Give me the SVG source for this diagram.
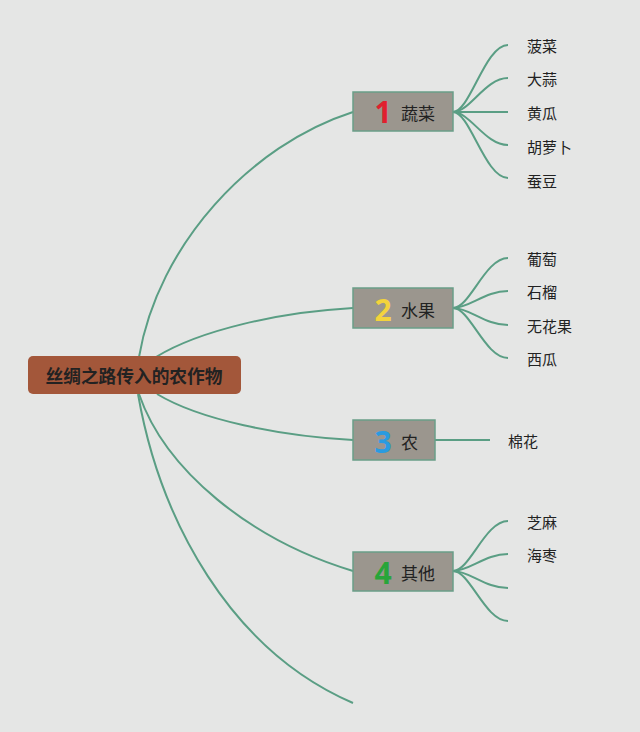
<svg xmlns="http://www.w3.org/2000/svg" width="640" height="732" viewBox="0 0 640 732">
<style>
.t{font-family:"Noto Sans CJK SC","Noto Sans",sans-serif;dominant-baseline:central;fill:#222}
.lbl{font-size:15px}
.nt{font-size:17px}
.num{font-family:"Noto Sans","DejaVu Sans",sans-serif;font-weight:bold;font-size:30px;dominant-baseline:central;text-anchor:middle}
.box{fill:#9b968e;stroke:#6a9e88;stroke-width:1.5}
.c path{fill:none;stroke:#5a9e84;stroke-width:2}
</style>
<rect width="640" height="732" fill="#e5e6e5"/>
<g class="c" id="connectors">
<path d="M139,357 C158,245 250,145 353,112"/>
<path d="M156,357 C200,330 280,312 353,308"/>
<path d="M157,394 C200,420 280,436 353,440"/>
<path d="M139,394 C165,470 250,540 353,571"/>
<path d="M138,394 C160,520 230,650 353,703"/>
<path d="M453,112 C470,112 485,45 508,45"/>
<path d="M453,112 C470,112 485,78 508,78"/>
<path d="M453,112 L508,112"/>
<path d="M453,112 C470,112 485,145 508,145"/>
<path d="M453,112 C470,112 485,178 508,178"/>
<path d="M453,308 C470,308 485,258 508,258"/>
<path d="M453,308 C470,308 485,291 508,291"/>
<path d="M453,308 C470,308 485,325 508,325"/>
<path d="M453,308 C470,308 485,358 508,358"/>
<path d="M435,440 L490,440"/>
<path d="M453,571 C470,571 485,521 508,521"/>
<path d="M453,571 C470,571 485,554 508,554"/>
<path d="M453,571 C470,571 485,588 508,588"/>
<path d="M453,571 C470,571 485,621 508,621"/>
</g>
<g id="root">
<rect x="28" y="356" width="213" height="38" rx="5" fill="#a3573a"/>
<text class="t" x="134" y="375" font-size="17.7" font-weight="bold" text-anchor="middle" fill="#111">丝绸之路传入的农作物</text>
</g>
<g id="n1">
<rect class="box" x="353" y="92" width="100" height="39"/>
<text class="num" x="383" y="111" fill="#e0202e" font-size="34">1</text>
<text class="t nt" x="401" y="112">蔬菜</text>
</g>
<g id="n2">
<rect class="box" x="353" y="288" width="100" height="40"/>
<text class="num" x="383" y="309" fill="#f3d33c">2</text>
<text class="t nt" x="401" y="309">水果</text>
</g>
<g id="n3">
<rect class="box" x="353" y="420" width="82" height="40"/>
<text class="num" x="383" y="441" fill="#2a9be0">3</text>
<text class="t nt" x="401" y="441">农</text>
</g>
<g id="n4">
<rect class="box" x="353" y="552" width="100" height="39"/>
<text class="num" x="383" y="572" fill="#28a53a">4</text>
<text class="t nt" x="401" y="572">其他</text>
</g>
<g id="leaves">
<text class="t lbl" x="527" y="45">菠菜</text>
<text class="t lbl" x="527" y="78">大蒜</text>
<text class="t lbl" x="527" y="112">黄瓜</text>
<text class="t lbl" x="527" y="146">胡萝卜</text>
<text class="t lbl" x="527" y="180">蚕豆</text>
<text class="t lbl" x="527" y="258">葡萄</text>
<text class="t lbl" x="527" y="291">石榴</text>
<text class="t lbl" x="527" y="325">无花果</text>
<text class="t lbl" x="527" y="358">西瓜</text>
<text class="t lbl" x="508" y="440">棉花</text>
<text class="t lbl" x="527" y="521">芝麻</text>
<text class="t lbl" x="527" y="554">海枣</text>
</g>
</svg>
